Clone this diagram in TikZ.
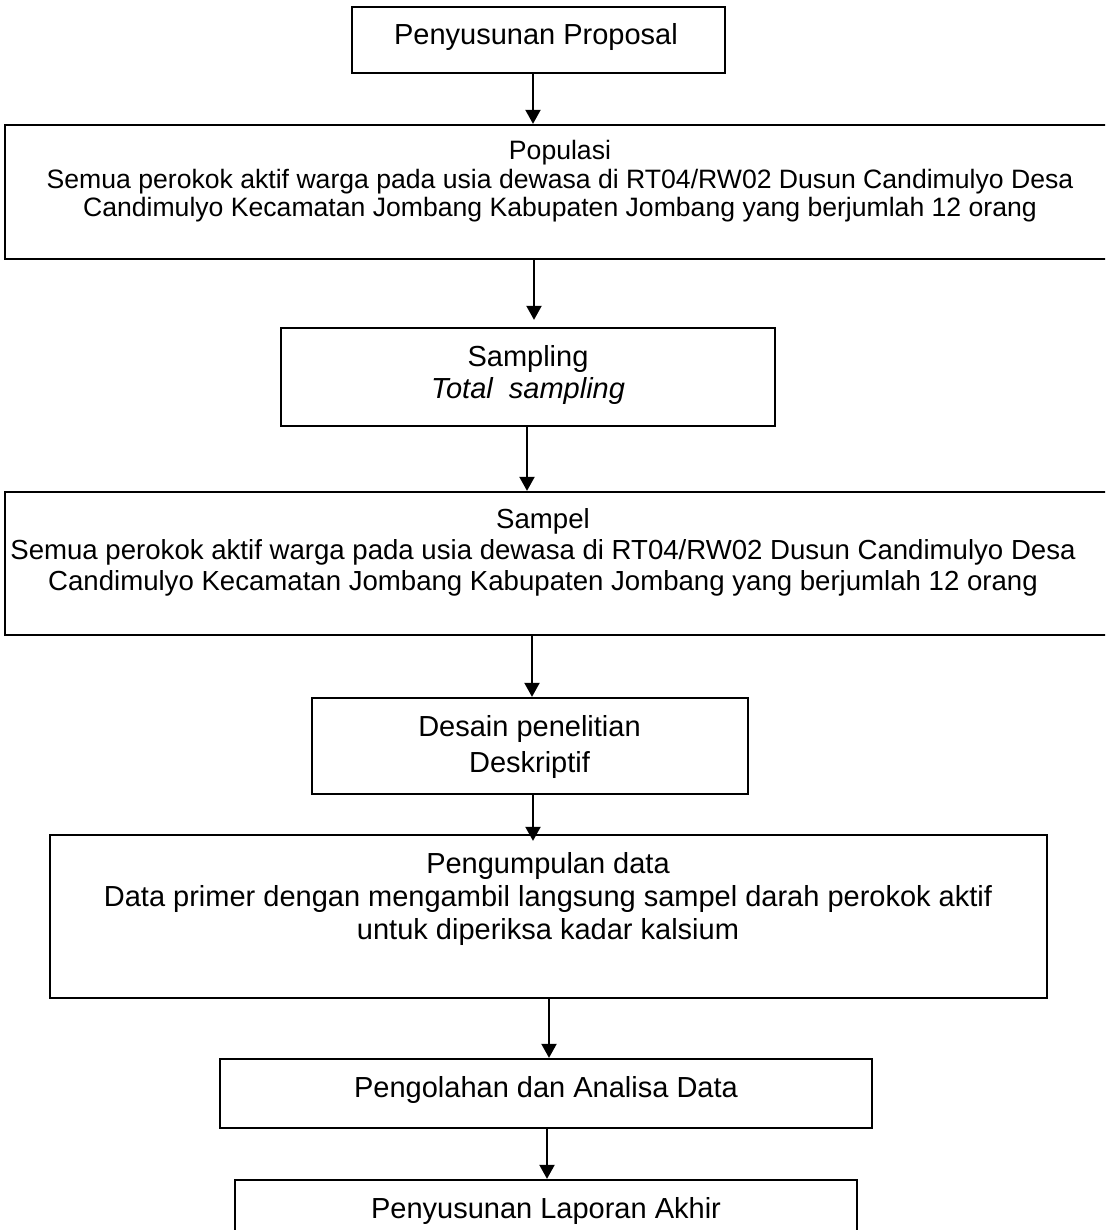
\documentclass[tikz,border=0pt]{standalone}
\usepackage{fontspec}
\setmainfont{Liberation Sans}
\usetikzlibrary{arrows.meta}
\begin{document}
\begin{tikzpicture}[x=0.5pt,y=-0.5pt,
  box/.style={draw, line width=1.15pt, rectangle, inner sep=0pt},
  txt/.style={align=center, inner sep=0pt, anchor=base},
  arr/.style={line width=1pt, -{Triangle[length=7pt,width=7.5pt]}}]
\clip (0,0) rectangle (1105,1230);
\fill[white] (0,0) rectangle (1105,1230);

% boxes
\node[box, minimum width=186.5pt, minimum height=33pt] (b1) at (538.5,40) {};
\node[box, minimum width=552.5pt, minimum height=67pt] (b2) at (557.5,192) {};
\node[box, minimum width=247pt, minimum height=49pt] (b3) at (528,377) {};
\node[box, minimum width=552.5pt, minimum height=71.5pt] (b4) at (557.5,563.5) {};
\node[box, minimum width=218pt, minimum height=48pt] (b5) at (530,746) {};
\node[box, minimum width=498.5pt, minimum height=81.5pt] (b6) at (548.5,916.5) {};
\node[box, minimum width=326pt, minimum height=34.5pt] (b7) at (546,1093.5) {};
\node[box, minimum width=311pt, minimum height=40pt] (b8) at (546,1220) {};

% texts (base anchor = baseline of the last line)
\node[txt, font=\fontsize{14.5}{16}\selectfont] (t1) at (536,45) {Penyusunan Proposal};
\node[txt, font=\fontsize{13.3}{14.25}\selectfont] (t2) at (560,217)
  {Populasi\\Semua perokok aktif warga pada usia dewasa di RT04/RW02 Dusun Candimulyo Desa\\Candimulyo Kecamatan Jombang Kabupaten Jombang yang berjumlah 12 orang};
\node[txt, font=\fontsize{14.5}{16}\selectfont] (t3) at (528,398) {Sampling\\\textit{Total\ \ sampling}};
\node[txt, font=\fontsize{13.8}{15.5}\selectfont] (t4) at (543,590)
  {Sampel\\Semua perokok aktif warga pada usia dewasa di RT04/RW02 Dusun Candimulyo Desa\\Candimulyo Kecamatan Jombang Kabupaten Jombang yang berjumlah 12 orang};
\node[txt, font=\fontsize{14.5}{18}\selectfont] (t5) at (529.5,772) {Desain penelitian\\Deskriptif};
\node[txt, font=\fontsize{14.5}{16.5}\selectfont] (t6) at (548,939)
  {Pengumpulan data\\Data primer dengan mengambil langsung sampel darah perokok aktif\\untuk diperiksa kadar kalsium};
\node[txt, font=\fontsize{14.5}{16}\selectfont] (t7) at (546,1097) {Pengolahan dan Analisa Data};
\node[txt, font=\fontsize{14.5}{16}\selectfont] (t8) at (546,1218) {Penyusunan Laporan Akhir};

% arrow x positions
\coordinate (x1) at (533,0);
\coordinate (x2) at (534,0);
\coordinate (x3) at (527,0);
\coordinate (x4) at (532,0);
\coordinate (x5) at (533,0);
\coordinate (x6) at (549,0);
\coordinate (x7) at (547,0);

\draw[arr] (b1.south -| x1) -- (b2.north -| x1);
\draw[arr, shorten >=3.5pt] (b2.south -| x2) -- (b3.north -| x2);
\draw[arr] (b3.south -| x3) -- (b4.north -| x3);
\draw[arr] (b4.south -| x4) -- (b5.north -| x4);
\draw[arr, shorten >=-3.5pt] (b5.south -| x5) -- (b6.north -| x5);
\draw[arr] (b6.south -| x6) -- (b7.north -| x6);
\draw[arr] (b7.south -| x7) -- (b8.north -| x7);
\end{tikzpicture}
\end{document}
